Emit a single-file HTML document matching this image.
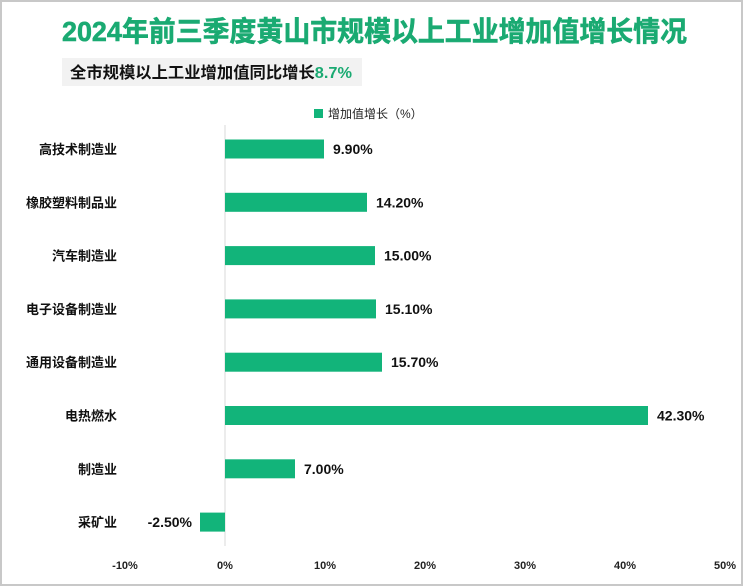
<!DOCTYPE html>
<html><head><meta charset="utf-8"><style>
body{margin:0;background:#fff}
svg{display:block;font-family:"Liberation Sans","Noto Sans CJK SC",sans-serif}
</style></head><body>
<svg id="c" width="743" height="586" viewBox="0 0 743 586">
<rect x="1" y="1" width="741" height="584" fill="#fff" stroke="#c8c8c8" stroke-width="2"/>
<text x="62" y="41" font-size="28" font-weight="bold" fill="#1aaa72" stroke="#1aaa72" stroke-width="0.6" textLength="625" lengthAdjust="spacingAndGlyphs">2024年前三季度黄山市规模以上工业增加值增长情况</text>
<rect x="62" y="58" width="300" height="28" fill="#f2f2f2"/>
<text x="70" y="78" font-size="16" font-weight="bold" fill="#111" textLength="282" lengthAdjust="spacingAndGlyphs">全市规模以上工业增加值同比增长<tspan fill="#1aaa72">8.7%</tspan></text>
<rect x="314" y="109" width="9" height="9" fill="#12b47a"/>
<text x="328" y="118" font-size="12" fill="#222">增加值增长（%）</text>
<g id="plot"></g>
</svg>
<script>
const categories=["高技术制造业","橡胶塑料制品业","汽车制造业","电子设备制造业","通用设备制造业","电热燃水","制造业","采矿业"];
const values=[9.9,14.2,15.0,15.1,15.7,42.3,7.0,-2.5];
const ticks=[-10,0,10,20,30,40,50];
const tickLabels=["-10%","0%","10%","20%","30%","40%","50%"];
const ns="http://www.w3.org/2000/svg";
const g=document.getElementById('plot');
const x=v=>225+(v)*10;
const y0=149,step=53.3;
const y=i=>y0+i*step;
function mk(t,a){const e=document.createElementNS(ns,t);for(const k in a)e.setAttribute(k,a[k]);g.appendChild(e);return e;}
const ax=mk('line',{x1:x(0),x2:x(0),y1:125,y2:546,stroke:'#d9d9d9'});


ticks.forEach((t,i)=>{
 const e=mk('text',{x:x(t),y:569,'font-size':11,'font-weight':'bold','text-anchor':'middle',fill:'#222'});
 e.textContent=tickLabels[i];
 
 
});
categories.forEach((c,i)=>{
 const v=values[i];
 const l=mk('text',{x:117,y:y(i)+5,'font-size':13,'font-weight':600,'text-anchor':'end',fill:'#111'});
 l.textContent=c;
 
 
 const b=mk('rect',{x:Math.min(x(0),x(v)),y:y(i)-9.5,width:Math.abs(x(v)-x(0)),height:19,fill:'#12b47a'});
 
 
 const vt=mk('text',{x:v>=0?x(v)+9:x(v)-8,y:y(i)+5,'font-size':14,'font-weight':'bold','text-anchor':v>=0?'start':'end',fill:'#111'});
 vt.textContent=v.toFixed(2)+'%';
 
 
});
</script>
</body></html>
